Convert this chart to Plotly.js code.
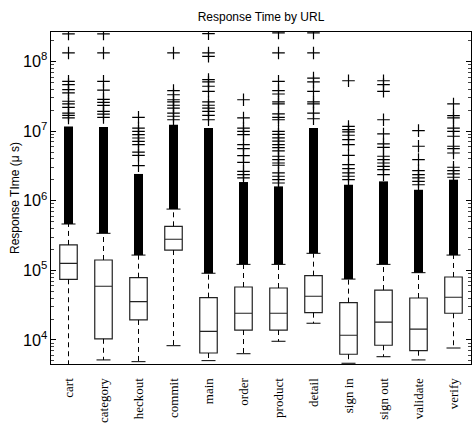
<!DOCTYPE html>
<html>
<head>
<meta charset="utf-8">
<script src="https://cdn.plot.ly/plotly-3.0.1.min.js"></script>
<style>html,body{margin:0;padding:0;background:#fff;}#chart{width:472px;height:426px;}</style>
</head>
<body>
<div id="chart"></div>
<script>
// Categories (x tick labels as visible in the reference)
const categories = ['cart','category','heckout','commit','main','order','product','detail','sign in','sign out','validate','verify'];

// Box statistics (microseconds)
const q1         = [7.45e4, 1.04e4, 1.94e4, 1.96e5, 6.5e3, 1.39e4, 1.39e4, 2.47e4, 6.24e3, 8.4e3, 7.02e3, 2.42e4];
const median     = [1.26e5, 5.92e4, 3.55e4, 2.8e5, 1.33e4, 2.42e4, 2.42e4, 4.25e4, 1.17e4, 1.81e4, 1.43e4, 4.11e4];
const q3         = [2.32e5, 1.41e5, 7.85e4, 4.3e5, 4.06e4, 5.77e4, 5.58e4, 8.4e4, 3.44e4, 5.22e4, 4.01e4, 8.04e4];
const lowerFence = [3.0e3, 5.17e3, 4.88e3, 8.28e3, 5.05e3, 6.35e3, 9.58e3, 1.74e4, 4.63e3, 5.75e3, 5.17e3, 7.67e3];
const upperFence = [4.64e5, 3.41e5, 1.66e5, 7.6e5, 9.1e4, 1.22e5, 1.22e5, 1.76e5, 7.5e4, 1.22e5, 9.27e4, 1.66e5];

// Upper end of the densely packed outlier range (outliers overlap into a solid column)
const denseTop   = [1.17e7, 1.15e7, 2.43e6, 1.24e7, 1.11e7, 1.86e6, 1.61e6, 1.11e7, 1.7e6, 1.9e6, 1.44e6, 2.01e6];

// Individually visible outliers
const outCart     = [2.5e8, 1.33e8, 5.2e7, 4.66e7, 3.95e7, 3.54e7, 2.69e7, 2.46e7, 2.2e7, 1.82e7, 1.69e7, 1.55e7];
const outCategory = [2.5e8, 1.33e8, 5.2e7, 3.9e7, 2.86e7, 2.6e7, 2.35e7, 1.93e7, 1.76e7, 1.58e7];
const outHeckout  = [1.58e7, 1.11e7, 9.95e6, 8.9e6, 7.98e6, 7.16e6, 6.4e6, 5.0e6, 4.5e6, 3.19e6];
const outCommit   = [1.33e8, 3.82e7, 3.34e7, 2.83e7, 2.63e7, 2.36e7, 2.15e7, 1.82e7, 1.64e7, 1.46e7];
const outMain     = [2.52e8, 1.33e8, 1.19e8, 5.5e7, 5.1e7, 4.42e7, 3.74e7, 2.63e7, 2.36e7, 2.15e7, 1.93e7, 1.69e7, 1.46e7];
const outOrder    = [2.83e7, 1.55e7, 1.11e7, 9.95e6, 8.9e6, 6.4e6, 5.6e6, 4.45e6, 3.57e6, 2.65e6, 2.37e6, 2.13e6];
const outProduct  = [2.58e8, 1.33e8, 5.2e7, 3.82e7, 3.42e7, 2.63e7, 2.46e7, 1.77e7, 1.58e7, 1.46e7, 9.95e6, 9.0e6, 8.0e6, 7.2e6, 6.4e6, 5.8e6, 5.2e6, 4.36e6, 3.9e6, 3.49e6, 3.24e6, 2.51e6, 2.25e6, 2.01e6, 1.8e6];
const outDetail   = [2.58e8, 1.33e8, 5.8e7, 5.1e7, 3.74e7, 2.63e7, 2.46e7, 1.82e7, 1.51e7];
const outSignIn   = [5.3e7, 1.17e7, 1.05e7, 9.75e6, 8.74e6, 7.55e6, 6.4e6, 4.5e6, 3.3e6, 2.89e6, 2.51e6, 2.25e6, 2.01e6];
const outSignOut  = [5.3e7, 4.66e7, 3.74e7, 1.46e7, 9.12e6, 6.55e6, 5.87e6, 4.36e6, 3.9e6, 3.49e6, 3.13e6, 2.8e6, 2.37e6];
const outValidate = [1.02e7, 6.07e6, 3.9e6, 2.71e6, 2.37e6, 2.13e6, 1.9e6, 1.7e6];
const outVerify   = [2.46e7, 1.67e7, 1.55e7, 1.11e7, 9.95e6, 8.45e6, 6.07e6, 5.6e6, 4.86e6, 3.03e6, 2.71e6, 2.43e6, 2.18e6];

const outliers = [outCart, outCategory, outHeckout, outCommit, outMain, outOrder, outProduct, outDetail, outSignIn, outSignOut, outValidate, outVerify];

// Build derived arrays
const wx = [], wy = [];
const dx = [], dy = [];
categories.forEach((c, i) => {
  wx.push(c, c, null, c, c, null);
  wy.push(q3[i], upperFence[i], null, q1[i], lowerFence[i], null);
  dx.push(c, c, null);
  dy.push(upperFence[i], denseTop[i], null);
});
const ox = [], oy = [];
outliers.forEach((arr, i) => arr.forEach(v => { ox.push(categories[i]); oy.push(v); }));

const traces = [
  { type: 'scatter', mode: 'lines', x: wx, y: wy, hoverinfo: 'skip',
    line: { color: '#000', width: 1, dash: '5px,4px' }, showlegend: false },
  { type: 'scatter', mode: 'markers', x: categories.concat(categories), y: lowerFence.concat(upperFence), hoverinfo: 'skip',
    marker: { symbol: 'line-ew', size: 10, color: '#000', line: { color: '#000', width: 1 } }, showlegend: false },
  { type: 'box', x: categories, q1: q1, median: median, q3: q3,
    lowerfence: q1, upperfence: q3, width: 0.5, whiskerwidth: 0, boxpoints: false,
    fillcolor: '#ffffff', line: { color: '#222', width: 1.2 }, showlegend: false },
  { type: 'scatter', mode: 'lines', x: dx, y: dy, hoverinfo: 'skip',
    line: { color: '#000', width: 9 }, showlegend: false },
  { type: 'scatter', mode: 'markers', x: ox, y: oy,
    marker: { symbol: 'cross-thin-open', size: 9, color: '#000', line: { color: '#000', width: 1.2 } }, showlegend: false }
];

const layout = {
  width: 472, height: 426,
  margin: { l: 51, r: 1, t: 32, b: 62, pad: 0 },
  paper_bgcolor: '#fff', plot_bgcolor: '#fff',
  font: { family: 'Liberation Sans, Arial, sans-serif', color: '#000', size: 12 },
  title: { text: 'Response Time by URL', x: 0.5, xref: 'paper', y: 0.96, yref: 'container', yanchor: 'middle',
           font: { family: 'Liberation Sans, Arial, sans-serif', size: 12, color: '#000' } },
  xaxis: {
    type: 'category', categoryorder: 'array', categoryarray: categories,
    range: [-0.5, 11.5], showline: true, linecolor: '#000', linewidth: 1, mirror: true,
    ticks: '', showgrid: false, zeroline: false, tickangle: -90, ticklabelstandoff: 8,
    tickfont: { family: 'Liberation Serif, Times New Roman, serif', size: 13, color: '#000' }
  },
  yaxis: {
    type: 'log', range: [3.655, 8.425], tickmode: 'linear', tick0: 0, dtick: 1,
    exponentformat: 'power', showexponent: 'all',
    showline: true, linecolor: '#000', linewidth: 1, mirror: 'ticks',
    ticks: 'inside', ticklen: 5, tickcolor: '#000', showgrid: false, zeroline: false,
    minor: { ticks: 'inside', ticklen: 3, tickwidth: 1, tickcolor: '#444', showgrid: false },
    tickfont: { family: 'Liberation Sans, Arial, sans-serif', size: 13, color: '#000' },
    title: { text: 'Response TIme (μ s)', standoff: 0,
             font: { family: 'Liberation Sans, Arial, sans-serif', size: 12, color: '#000' } }
  }
};

Plotly.newPlot('chart', traces, layout, { displayModeBar: false, staticPlot: true });
</script>
</body>
</html>
